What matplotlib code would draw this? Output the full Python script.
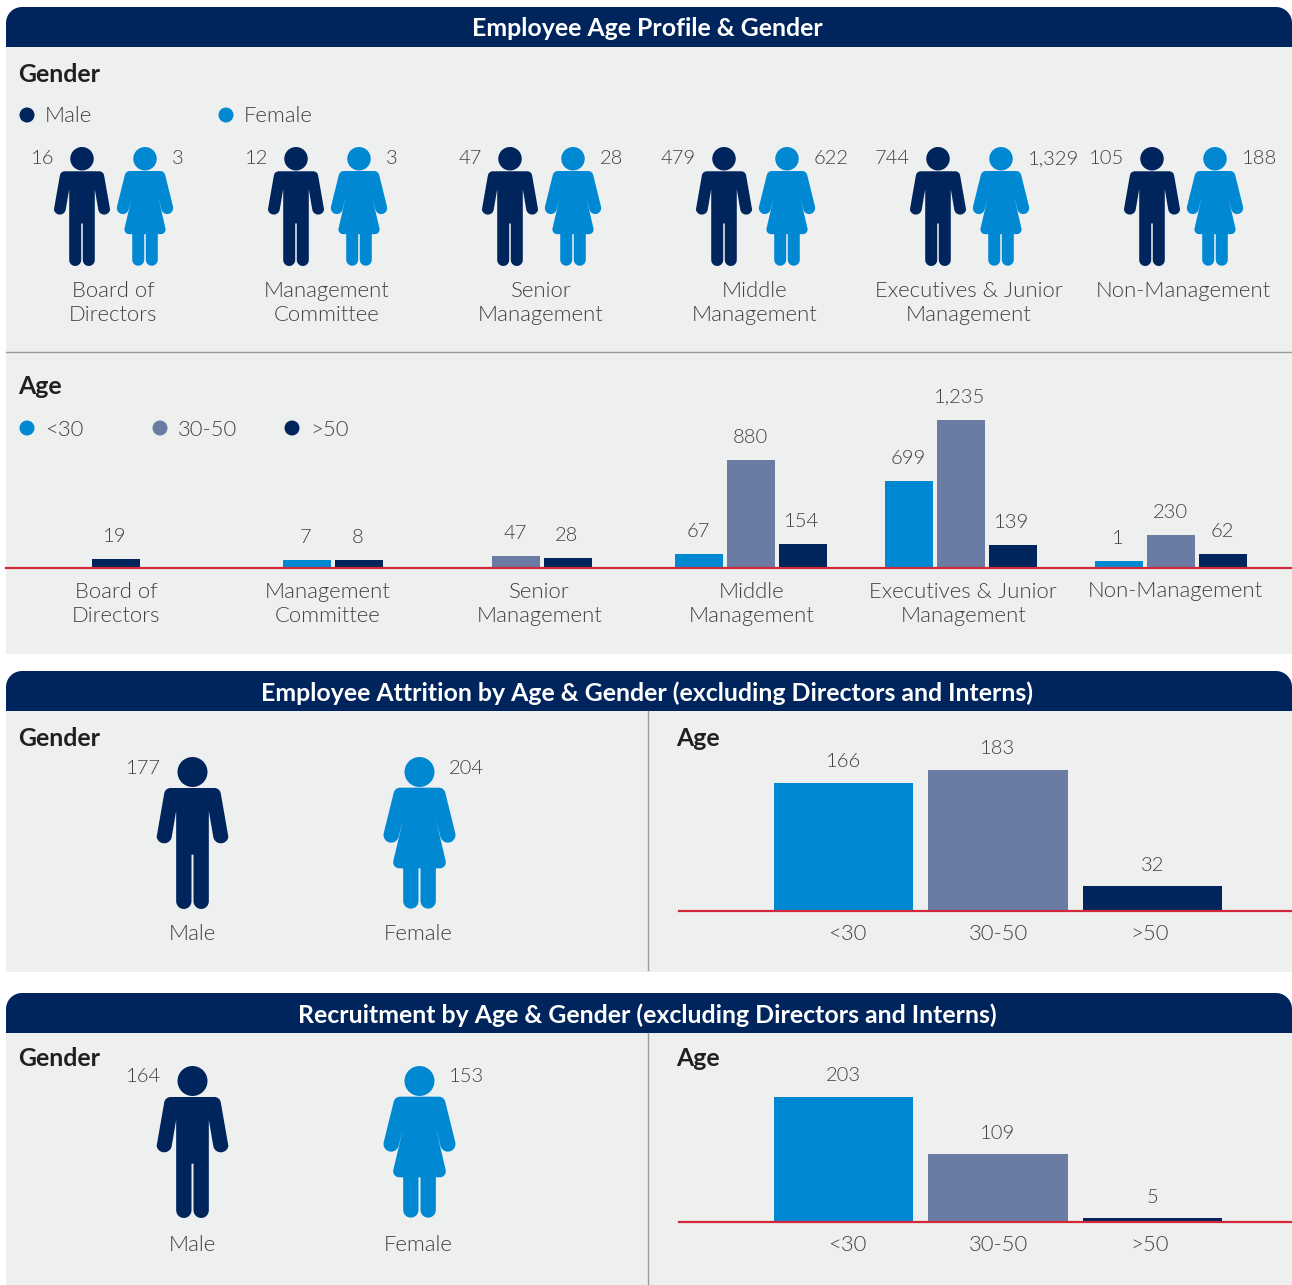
#!/usr/bin/env python3

import matplotlib
matplotlib.use('Agg')
import matplotlib.pyplot as plt
import numpy as np
from matplotlib.patches import Circle, Polygon, Rectangle

W, H = 1292, 1285

NAVY = '#00245C'
BLUE = '#0089D2'
SLATE = '#6A7BA4'
RED = '#D2283A'
PANEL = '#EEF0F0'
RULE = '#9A9C9C'
TEXT = '#404040'
DARK = '#231F20'

NUM_SIZE = 14.5
LABEL_SIZE = 15.9

plt.rcParams['font.family'] = ['Lato', 'DejaVu Sans']

levels = ['Board of\nDirectors', 'Management\nCommittee', 'Senior\nManagement',
          'Middle\nManagement', 'Executives & Junior\nManagement', 'Non-Management']
male_counts = ['16', '12', '47', '479', '744', '105']
female_counts = ['3', '3', '28', '622', '1,329', '188']

age_under_30 = [None, 7, None, 67, 699, 1]
age_30_50 = [None, None, 47, 880, 1235, 230]
age_over_50 = [19, 8, 28, 154, 139, 62]

age_groups = ['<30', '30-50', '>50']
attrition_age = [166, 183, 32]
attrition_male = '177'
attrition_female = '204'
recruit_age = [203, 109, 5]
recruit_male = '164'
recruit_female = '153'

titles = ['Employee Age Profile & Gender',
          'Employee Attrition by Age & Gender (excluding Directors and Interns)',
          'Recruitment by Age & Gender (excluding Directors and Interns)']


def arc(cx, cy, r, start, stop, n=14):
    t = np.radians(np.linspace(start, stop, n))
    return np.column_stack([cx + r * np.cos(t), cy + r * np.sin(t)])


def mirrored(half):
    left = half[::-1] * [-1, 1]
    return np.vstack([half, left])


def male_outline():
    half = np.vstack([
        [[0, 93], [66, 93]],
        arc(66, 112, 19, -90, -10, 8),
        arc(85, 236, 23, 10, 170),
        [[48, 156], [49, 156]],
        arc(26, 433, 23, 0, 180),
        [[3, 293], [0, 293]],
    ])
    return mirrored(half)


def female_outline():
    half = np.vstack([
        [[0, 92], [58, 92]],
        arc(58, 112, 20, -90, -15, 8),
        arc(85, 234, 23, -15, 165),
        [[49, 186]],
        arc(61, 316, 18, -10, 90, 8),
        [[49, 334]],
        arc(26, 432, 23, 0, 180),
        [[3, 334], [0, 334]],
    ])
    return mirrored(half)


def draw_person(ax, cx, top, height, kind):
    # outlines are in a 456 unit tall icon box
    k = height / 456
    if kind == 'male':
        pts, head_y, color = male_outline(), 45, NAVY
    else:
        pts, head_y, color = female_outline(), 45, BLUE
    ax.add_patch(Polygon(pts * k + [cx, top], closed=True, fc=color, ec='none'))
    ax.add_patch(Circle((cx, top + head_y * k), 45 * k, fc=color, ec='none'))


def header(ax, top, title):
    r = 16
    pts = np.vstack([
        [[6, top + 40]],
        arc(6 + r, top + r, r, 180, 270),
        arc(W - r, top + r, r, 270, 360),
        [[W, top + 40]],
    ])
    ax.add_patch(Polygon(pts, closed=True, fc=NAVY, ec='none'))
    ax.text(647, top + 22, title, color='white', fontsize=17.9, weight='bold',
            ha='center', va='center')


def label(ax, x, y, s, ha='center', size=LABEL_SIZE):
    ax.text(x, y + 1, s, color=TEXT, fontsize=size, weight=300, ha=ha, va='center',
            linespacing=1.27)


def heading(ax, x, y, s):
    ax.text(x, y + 1, s, color=DARK, fontsize=17.9, weight='bold', ha='left', va='center')


def bar_axes(fig, left, right, top, base):
    ax = fig.add_axes([left / W, 1 - base / H, (right - left) / W, (base - top) / H])
    ax.axis('off')
    ax.patch.set_alpha(0)
    return ax


def small_age_chart(fig, main):
    ax = bar_axes(fig, 6, W, 390, 567.5)
    # bars stand on a short stub under the zero of the value scale
    floor = -55
    px_per_unit = 0.1145
    ax.set_xlim(6, W)
    ax.set_ylim(floor, floor + 177.5 / px_per_unit)
    centres = [116, 333, 542, 751, 961, 1171]
    series = [(age_under_30, BLUE), (age_30_50, SLATE), (age_over_50, NAVY)]
    for i, centre in enumerate(centres):
        present = [(s[i], c) for s, c in series if s[i] is not None]
        for j, (v, c) in enumerate(present):
            x = centre + (j - (len(present) - 1) / 2) * 52
            ax.bar(x, v - floor, 48, bottom=floor, color=c)
            ax.annotate(f'{v:,}', (x - 1, v), xytext=(0, 16.2), textcoords='offset points',
                        ha='center', va='center', color=TEXT, fontsize=NUM_SIZE, weight=300)
    ax.axhline(floor, color=RED, lw=1.6, clip_on=False)
    for i, s in enumerate(levels):
        label(main, 116 + 211.8 * i, 603 if '\n' in s else 590, s)


def wide_age_chart(fig, main, values, top, base, px_per_unit, label_y):
    ax = bar_axes(fig, 679, W, top, base)
    step = 154.5
    ax.set_xlim((679 - 843.5) / step, (W - 843.5) / step)
    ax.set_ylim(0, (base - top) / px_per_unit)
    x = np.arange(len(values))
    ax.bar(x, values, 0.9, color=[BLUE, SLATE, NAVY])
    for xi, v in zip(x, values):
        ax.annotate(str(v), (xi, v), xytext=(0, 15), textcoords='offset points',
                    ha='center', va='center', color=TEXT, fontsize=NUM_SIZE, weight=300)
    ax.axhline(0, color=RED, lw=1.6, clip_on=False)
    for px, s in zip([847, 998, 1150], age_groups):
        label(main, px, label_y, s)


def wide_gender(ax, top, male, female, value_y, label_y):
    draw_person(ax, 192.5, top, 152, 'male')
    draw_person(ax, 419.5, top, 152, 'female')
    label(ax, 161, value_y, male, ha='right', size=NUM_SIZE)
    label(ax, 449, value_y, female, ha='left', size=NUM_SIZE)
    label(ax, 192, label_y, 'Male')
    label(ax, 418, label_y, 'Female')


def main():
    fig = plt.figure(figsize=(W / 100, H / 100), dpi=100, facecolor='white')
    ax = fig.add_axes([0, 0, 1, 1])
    ax.set_xlim(0, W)
    ax.set_ylim(H, 0)
    ax.axis('off')

    for top, bottom in [(47, 654), (711, 972), (1033, H)]:
        ax.add_patch(Rectangle((6, top), W - 6, bottom - top, fc=PANEL, ec='none'))
    for top, title in zip([7, 671, 993], titles):
        header(ax, top, title)

    ax.plot([6, W], [352, 352], color=RULE, lw=1)
    ax.plot([647.5, 647.5], [711, 970], color=RULE, lw=1)
    ax.plot([647.5, 647.5], [1033, H], color=RULE, lw=1)

    heading(ax, 18.5, 74, 'Gender')
    heading(ax, 18.5, 385, 'Age')
    heading(ax, 18.5, 737, 'Gender')
    heading(ax, 676.5, 737, 'Age')
    heading(ax, 18.5, 1058, 'Gender')
    heading(ax, 676.5, 1058, 'Age')

    for x, c, s in [(27, NAVY, 'Male'), (226, BLUE, 'Female')]:
        ax.add_patch(Circle((x, 115), 7.5, fc=c, ec='none'))
        label(ax, x + 18, 115, s, ha='left')
    for x, c, s in zip([27, 160, 292], [BLUE, SLATE, NAVY], age_groups):
        ax.add_patch(Circle((x, 428), 7.5, fc=c, ec='none'))
        label(ax, x + 18, 429, s, ha='left')

    for i, s in enumerate(levels):
        cx = 82 + 214 * i
        draw_person(ax, cx, 147, 119, 'male')
        draw_person(ax, cx + 63, 147, 119, 'female')
        label(ax, cx - 28, 158, male_counts[i], ha='right', size=NUM_SIZE)
        label(ax, cx + 63 + 27, 158, female_counts[i], ha='left', size=NUM_SIZE)
        label(ax, 113 + 214 * i, 302 if '\n' in s else 290, s)

    small_age_chart(fig, ax)

    wide_gender(ax, 757, attrition_male, attrition_female, 768, 933)
    wide_age_chart(fig, ax, attrition_age, 740, 910.5, 0.77, 933)

    wide_gender(ax, 1066, recruit_male, recruit_female, 1076, 1244)
    wide_age_chart(fig, ax, recruit_age, 1060, 1221.5, 0.615, 1244)

    fig.savefig('out.png', dpi=100)


if __name__ == '__main__':
    main()
